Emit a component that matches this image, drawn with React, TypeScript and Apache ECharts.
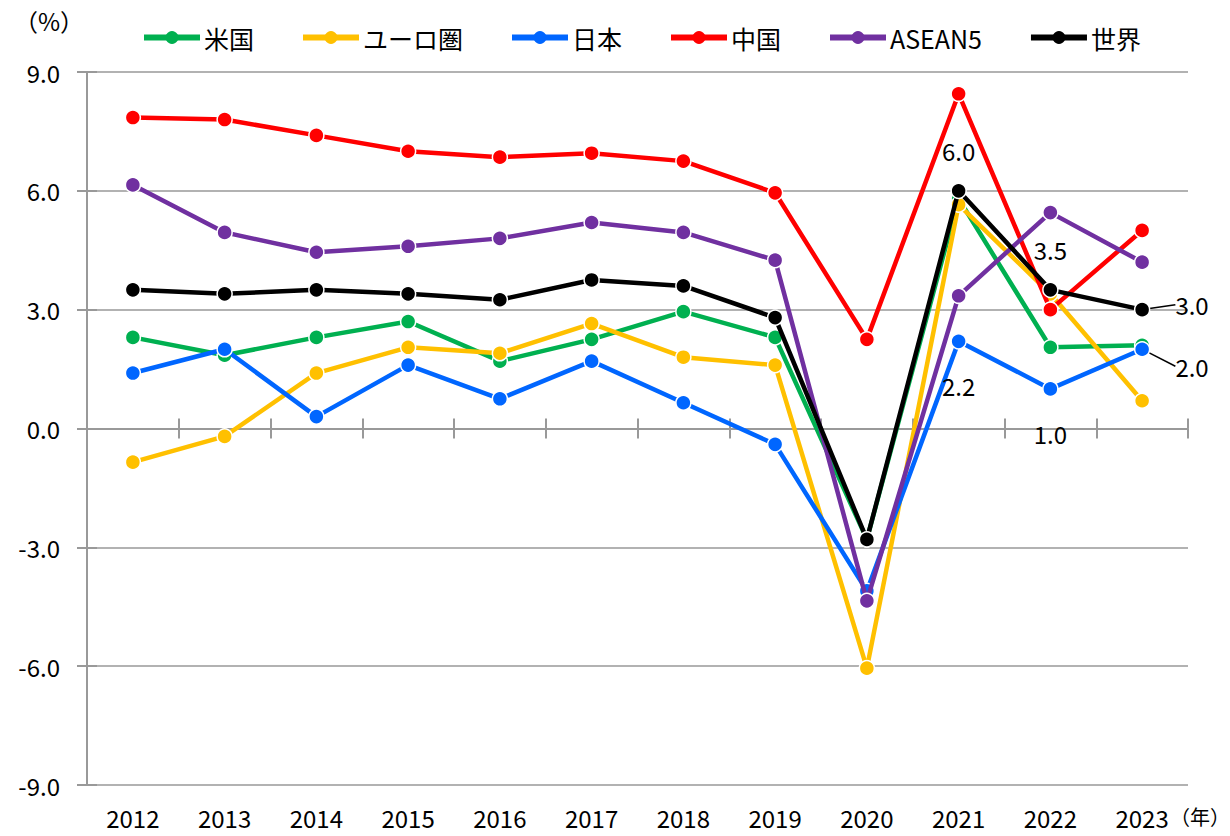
import React, { useEffect, useRef } from "react";
import * as echarts from "echarts";

const years = ["2012", "2013", "2014", "2015", "2016", "2017", "2018", "2019", "2020", "2021", "2022", "2023"];
const usa = [2.3, 1.85, 2.3, 2.7, 1.7, 2.25, 2.95, 2.3, -2.8, 5.8, 2.05, 2.1];
const euro = [-0.85, -0.2, 1.4, 2.05, 1.9, 2.65, 1.8, 1.6, -6.05, 5.65, 3.4, 0.7];
const japan = [1.4, 2.0, 0.3, 1.6, 0.75, 1.7, 0.65, -0.4, -4.1, 2.2, 1.0, 2.0];
const china = [7.85, 7.8, 7.4, 7.0, 6.85, 6.95, 6.75, 5.95, 2.25, 8.45, 3.0, 5.0];
const asean5 = [6.15, 4.95, 4.45, 4.6, 4.8, 5.2, 4.95, 4.25, -4.35, 3.35, 5.45, 4.2];
const world = [3.5, 3.4, 3.5, 3.4, 3.25, 3.75, 3.6, 2.8, -2.8, 6.0, 3.5, 3.0];
const seriesNames = ["米国", "ユーロ圏", "日本", "中国", "ASEAN5", "世界"];
const seriesColors = ["#00b050", "#ffc000", "#0066ff", "#ff0000", "#7030a0", "#000000"];
const yTicks = { min: -9, max: 9, interval: 3 };

const FONT = "'Noto Sans CJK JP', 'Noto Sans', sans-serif";

export default function App() {
  const ref = useRef<HTMLDivElement>(null);
  useEffect(() => {
    document.body.style.margin = "0";
    const chart = echarts.init(ref.current!, null, { renderer: "svg" });
    const lblStyle = { color: "#000", fontSize: 24, fontFamily: FONT };
    const fmt = (p: any) => Number(p.value).toFixed(1);
    const mkData = (vals: number[], isWorld: boolean) =>
      vals.map((v, i) => {
        if (i === 9 || i === 10) {
          return {
            value: v,
            label: {
              show: true,
              position: isWorld ? "top" : "bottom",
              distance: isWorld ? 20 : 24,
              formatter: fmt,
              ...lblStyle,
            },
          };
        }
        if (i === 11) {
          return {
            value: v,
            label: { show: true, position: "right", distance: 5, formatter: fmt, ...lblStyle },
            labelLine: { show: true, lineStyle: { color: "#000", width: 1.5 } },
          };
        }
        return v;
      });
    const allVals = [usa, euro, japan, china, asean5, world];
    const series = allVals.map((vals, si) => {
      const labelled = si === 2 || si === 5;
      return {
        name: seriesNames[si],
        type: "line",
        xAxisIndex: 0,
        yAxisIndex: 0,
        data: labelled ? mkData(vals, si === 5) : vals,
        symbol: "circle",
        symbolSize: 15,
        color: seriesColors[si],
        lineStyle: { width: 4.5, color: seriesColors[si] },
        itemStyle: { color: seriesColors[si], borderColor: "#fff", borderWidth: 1.5 },
        labelLayout: labelled
          ? (p: any) => (p.dataIndex === 11 ? { dx: 20, dy: si === 5 ? -5 : 17 } : {})
          : undefined,
        z: 2 + si,
      };
    });
    const axisGray = "#999999";
    chart.setOption({
      animation: false,
      textStyle: { fontFamily: FONT },
      grid: { left: 87, right: 42, top: 72, bottom: 51, containLabel: false },
      legend: {
        top: 20,
        left: 136,
        itemGap: 46,
        itemWidth: 56,
        itemHeight: 16,
        lineStyle: { width: 6 },
        itemStyle: { borderWidth: 0 },
        textStyle: { fontSize: 25, color: "#000", fontFamily: FONT, padding: [0, 0, 0, -1] },
        data: seriesNames,
      },
      xAxis: [
        {
          type: "category",
          data: years,
          position: "bottom",
          axisLine: { show: false, onZero: false },
          axisTick: { show: false },
          axisLabel: { margin: 20, fontSize: 24, color: "#000", fontFamily: FONT },
        },
        {
          type: "category",
          data: years,
          position: "bottom",
          axisLine: { show: true, onZero: true, lineStyle: { color: axisGray, width: 2 } },
          axisTick: { show: true, length: 10, lineStyle: { color: axisGray, width: 2 } },
          axisLabel: { show: false },
        },
        {
          type: "category",
          data: years,
          position: "top",
          axisLine: { show: false, onZero: true },
          axisTick: { show: true, length: 10, lineStyle: { color: axisGray, width: 2 } },
          axisLabel: { show: false },
        },
      ],
      yAxis: [
        {
          type: "value",
          min: yTicks.min,
          max: yTicks.max,
          interval: yTicks.interval,
          axisLine: { show: true, lineStyle: { color: axisGray, width: 2 } },
          axisTick: { show: true, length: 10, lineStyle: { color: axisGray, width: 2 } },
          axisLabel: { margin: 27, fontSize: 24, color: "#000", fontFamily: FONT, formatter: (v: number) => v.toFixed(1) },
          splitLine: { show: true, lineStyle: { color: axisGray, width: 1.5 } },
        },
        {
          type: "value",
          min: yTicks.min,
          max: yTicks.max,
          interval: yTicks.interval,
          position: "left",
          axisLine: { show: false },
          axisTick: { show: true, inside: true, length: 10, lineStyle: { color: axisGray, width: 2 } },
          axisLabel: { show: false },
          splitLine: { show: false },
        },
      ],
      graphic: [
        { type: "text", left: 14, top: 8, style: { text: "（%）", fontSize: 24, fill: "#000", fontFamily: FONT } },
        { type: "text", left: 1170, top: 806, style: { text: "（年）", fontSize: 20, fill: "#000", fontFamily: FONT } },
      ],
      series,
    });
    return () => chart.dispose();
  }, []);
  return <div ref={ref} style={{ width: 1230, height: 836 }} />;
}
